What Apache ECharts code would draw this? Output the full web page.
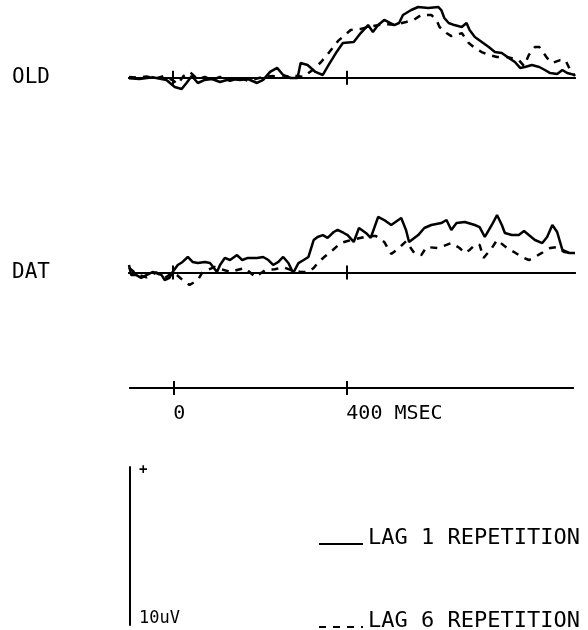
<!DOCTYPE html>
<html><head><meta charset="utf-8">
<script src="https://cdn.jsdelivr.net/npm/echarts@6/dist/echarts.min.js"></script>
<style>html,body{margin:0;padding:0;background:#fff}#c{width:588px;height:630px}</style>
</head><body><div id="c"></div>
<script>
// time axis (ms) tick values and labels
const timeTicks = [0, 400];
const timeTickLabels = ['0', '400 MSEC'];
const panelNames = ['OLD', 'DAT'];
const legendNames = ['LAG 1 REPETITION', 'LAG 6 REPETITION'];
const scaleLabels = ['10uV', '+'];

// [ms, microvolts]
const oldLag1 = [[-100,-0.04],[-76,-0.08],[-46,0.03],[-14,-0.14],[5,-0.58],[21,-0.71],[32,-0.33],[44,0.11],[58,-0.33],[74,-0.14],[90,-0.08],[109,-0.27],[132,-0.08],[155,-0.14],[173,-0.08],[194,-0.33],[208,-0.14],[224,0.36],[240,0.61],[254,0.17],[271,-0.02],[287,-0.02],[294,0.92],[310,0.79],[328,0.36],[345,0.17],[358,0.79],[375,1.54],[391,2.17],[416,2.23],[432,2.79],[449,3.29],[460,2.86],[472,3.29],[486,3.61],[509,3.29],[520,3.42],[529,3.92],[548,4.23],[564,4.42],[587,4.36],[610,4.42],[617,4.23],[624,3.73],[634,3.42],[647,3.29],[664,3.17],[675,3.42],[682,2.98],[694,2.54],[710,2.23],[726,1.92],[740,1.61],[756,1.54],[772,1.23],[786,0.98],[798,0.61],[809,0.67],[825,0.79],[842,0.67],[855,0.48],[867,0.29],[883,0.23],[895,0.48],[906,0.29],[924,0.17]];
const oldLag6 = [[-100,0.05],[-80,0.0],[-60,0.08],[-40,-0.05],[-20,0.1],[0,-0.15],[12,-0.4],[25,0.1],[40,0.35],[58,-0.1],[74,0.05],[90,-0.15],[109,0.05],[132,-0.2],[155,0.0],[173,-0.2],[194,-0.05],[208,0.05],[230,0.1],[254,0.0],[275,0.15],[300,0.05],[320,0.45],[340,0.95],[360,1.6],[380,2.3],[409,2.98],[432,3.05],[455,3.2],[486,3.35],[510,3.3],[536,3.48],[553,3.6],[571,3.92],[594,3.92],[606,3.6],[613,3.17],[629,2.79],[640,2.6],[652,2.67],[664,2.79],[680,2.17],[694,1.86],[710,1.6],[726,1.42],[745,1.29],[768,1.29],[795,1.1],[807,0.73],[818,1.42],[832,1.92],[842,1.92],[860,1.23],[872,0.92],[890,1.1],[902,1.1],[913,0.48],[924,0.1]];
const datLag1 = [[-100,0.47],[-95,-0.16],[-83,-0.16],[-72,-0.34],[-60,-0.16],[-46,0.03],[-37,-0.03],[-25,-0.16],[-18,-0.47],[-7,-0.34],[0,0.03],[12,0.47],[23,0.66],[35,0.97],[46,0.66],[58,0.59],[74,0.66],[86,0.59],[102,0.03],[109,0.47],[120,0.91],[132,0.78],[148,1.09],[160,0.78],[173,0.91],[194,0.91],[208,0.97],[220,0.78],[231,0.47],[243,0.66],[254,0.97],[266,0.59],[277,-0.03],[289,0.59],[301,0.78],[312,0.97],[324,2.03],[333,2.22],[345,2.34],[356,2.16],[370,2.53],[379,2.66],[393,2.47],[402,2.34],[416,1.91],[428,2.78],[444,2.47],[455,2.16],[472,3.47],[486,3.28],[502,2.97],[525,3.41],[536,2.66],[543,1.91],[564,2.34],[578,2.78],[594,2.97],[617,3.09],[629,3.28],[640,2.66],[652,3.09],[671,3.16],[694,2.97],[705,2.84],[717,2.22],[733,2.97],[745,3.59],[756,2.97],[763,2.47],[779,2.34],[795,2.34],[807,2.59],[818,2.34],[832,2.03],[849,1.84],[860,2.22],[872,2.97],[883,2.53],[895,1.41],[911,1.22],[924,1.22]];
const datLag6 = [[-100,0.3],[-83,-0.1],[-60,-0.3],[-37,0.0],[-18,-0.35],[0,0.0],[12,-0.2],[23,-0.47],[39,-0.78],[58,-0.47],[69,0.03],[97,0.35],[132,0.03],[148,0.16],[166,0.28],[190,-0.28],[213,0.16],[235,0.2],[254,0.34],[271,0.16],[294,0.03],[310,0.03],[324,0.28],[335,0.66],[351,1.03],[368,1.41],[386,1.84],[402,1.97],[421,2.1],[451,2.28],[467,2.28],[486,1.91],[502,1.16],[520,1.53],[536,1.95],[555,1.22],[571,1.09],[583,1.59],[610,1.53],[640,1.84],[659,1.53],[671,1.22],[682,1.41],[696,1.78],[705,1.72],[714,0.91],[733,1.53],[745,2.03],[768,1.53],[784,1.28],[802,0.97],[818,0.78],[832,0.97],[844,1.16],[867,1.53],[883,1.59],[899,1.28],[924,1.22]];

const FONT = 'DejaVu Sans Mono';
const BLACK = '#000';

function timeAxis(gridIndex, position, yIdx, withLabels) {
  return {
    type: 'value', gridIndex: gridIndex, position: position, min: -100, max: 924,
    axisLine: { show: true, onZero: true, onZeroAxisIndex: yIdx, lineStyle: { color: BLACK, width: 2 } },
    axisTick: { show: true, customValues: timeTicks, length: 7, lineStyle: { color: BLACK, width: 2 } },
    axisLabel: withLabels ? {
      show: true, customValues: timeTicks,
      formatter: function (v) { return timeTickLabels[timeTicks.indexOf(v)]; },
      align: 'left', margin: 6, fontFamily: FONT, fontSize: 20, color: BLACK
    } : { show: false },
    splitLine: { show: false }
  };
}
function panelY(g) {
  return {
    type: 'value', gridIndex: g, min: -1.5, max: 4.8,
    axisLine: { show: false, onZero: false }, axisTick: { show: false }, splitLine: { show: false },
    axisLabel: { show: true, customValues: [0], formatter: function () { return panelNames[g]; },
      margin: 79, fontFamily: FONT, fontSize: 21, color: BLACK, padding: [0, 0, 7, 0] }
  };
}
function wave(name, xi, yi, data, dashed) {
  return {
    type: 'line', name: name, xAxisIndex: xi, yAxisIndex: yi, data: data,
    symbol: 'none', showSymbol: false, clip: false, z: 3, animation: false,
    itemStyle: { color: BLACK },
    lineStyle: { color: BLACK, width: 2.5, type: dashed ? [7, 7] : 'solid' }
  };
}
function legendItem(name, top) {
  return {
    data: [name], left: 318, top: top, orient: 'horizontal', padding: 0,
    itemWidth: 44, itemHeight: 14, selectedMode: false,
    itemStyle: { opacity: 0 },
    formatter: function (n) { return '{t|' + n + '}'; },
    textStyle: {
      fontFamily: FONT, fontSize: 22, color: BLACK,
      rich: { t: { fontFamily: FONT, fontSize: 22, color: BLACK, padding: [0, 0, 12, 0] } }
    }
  };
}

const chart = echarts.init(document.getElementById('c'), null, { renderer: 'canvas' });
chart.setOption({
  animation: false,
  backgroundColor: '#fff',
  grid: [
    { left: 129, width: 446, top: 0.9, height: 100.8 },
    { left: 129, width: 446, top: 195.7, height: 100.8 },
    { left: 130, width: 443, top: 378, height: 20 },
    { left: 130, width: 20, top: 467, height: 158 }
  ],
  xAxis: [
    timeAxis(0, 'bottom', 0, false),
    timeAxis(0, 'top', 0, false),
    timeAxis(1, 'bottom', 1, false),
    timeAxis(1, 'top', 1, false),
    timeAxis(2, 'bottom', 2, true),
    timeAxis(2, 'top', 2, false),
    { type: 'value', gridIndex: 3, min: 0, max: 1, show: false }
  ],
  yAxis: [
    panelY(0),
    panelY(1),
    { type: 'value', gridIndex: 2, min: -1, max: 1, show: false },
    {
      type: 'value', gridIndex: 3, min: 0, max: 10,
      axisLine: { show: true, onZero: false, lineStyle: { color: BLACK, width: 2 } },
      axisTick: { show: false }, splitLine: { show: false },
      axisLabel: {
        show: true, inside: true, customValues: [0, 10], margin: 9, color: BLACK, fontFamily: FONT,
        formatter: function (v) { return v === 0 ? '{u|' + scaleLabels[0] + '}' : '{p|' + scaleLabels[1] + '}'; },
        rich: {
          u: { fontFamily: FONT, fontSize: 17, color: BLACK, padding: [0, 0, 12, 0] },
          p: { fontFamily: FONT, fontSize: 14, color: BLACK, fontWeight: 'bold', padding: [7, 0, 0, 0] }
        }
      }
    }
  ],
  legend: [legendItem(legendNames[0], 527), legendItem(legendNames[1], 610)],
  series: [
    wave(legendNames[0], 0, 0, oldLag1, false),
    wave(legendNames[1], 0, 0, oldLag6, true),
    wave(legendNames[0], 2, 1, datLag1, false),
    wave(legendNames[1], 2, 1, datLag6, true)
  ]
});
</script></body></html>
